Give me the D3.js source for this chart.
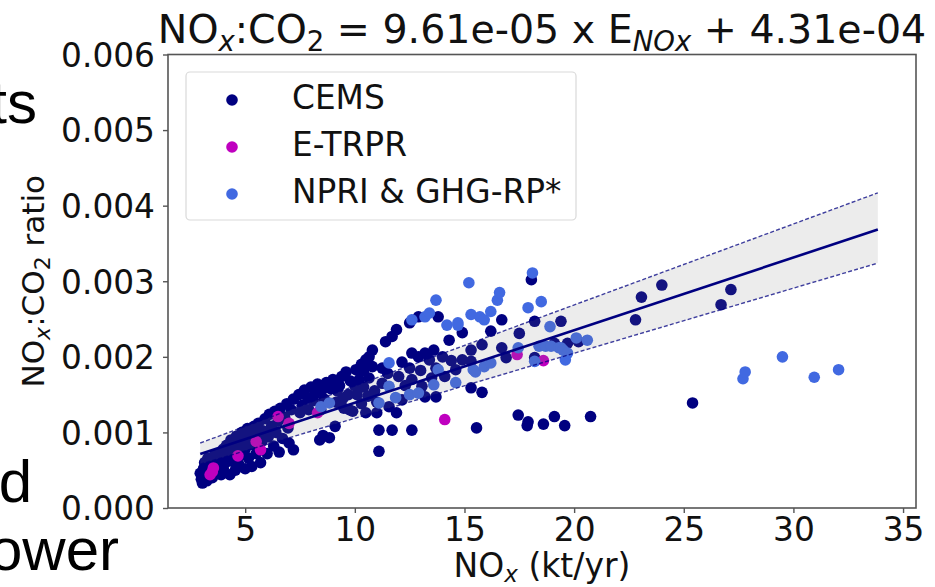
<!DOCTYPE html>
<html><head><meta charset="utf-8">
<script src="https://cdn.jsdelivr.net/npm/d3@7"></script>
<style>html,body{margin:0;padding:0;background:#fff;}svg{display:block;}</style>
</head><body>
<svg id="chart" width="935" height="587"></svg>
<script>
// ---------- data ----------
const cems = [
[2.95,4.6e-4],[3.0,3.8e-4],[3.05,3.3e-4],[3.1,5.2e-4],[3.15,6.0e-4],[3.2,4.2e-4],[3.25,3.6e-4],[3.3,6.6e-4],[3.35,5.0e-4],[3.4,5.7e-4],
[3.5,4.0e-4],[3.55,6.2e-4],[3.6,7.0e-4],[3.7,4.7e-4],[3.75,5.5e-4],[3.8,7.2e-4],[3.85,6.4e-4],[3.9,4.4e-4],[4.0,7.8e-4],[4.0,5.2e-4],
[4.1,6.0e-4],[4.15,8.3e-4],[4.2,7.0e-4],[4.3,4.4e-4],[4.35,9.0e-4],[4.4,6.2e-4],[4.5,7.6e-4],[4.55,5.0e-4],[4.6,9.5e-4],[4.65,8.4e-4],
[4.7,5.8e-4],[4.8,7.0e-4],[4.85,1.0e-3],[4.9,8.8e-4],[5.0,5.2e-4],[5.0,7.8e-4],[5.1,1.05e-3],[5.15,6.6e-4],[5.2,9.4e-4],[5.3,5.5e-4],
[5.35,8.4e-4],[5.4,1.08e-3],[5.5,7.2e-4],[5.55,9.8e-4],[5.6,1.12e-3],[5.7,6.0e-4],[5.75,8.8e-4],[5.8,1.02e-3],[5.9,1.18e-3],[6.0,7.2e-4],
[6.05,9.4e-4],[6.1,1.24e-3],[6.2,1.08e-3],[6.3,8.2e-4],[6.35,1.28e-3],[6.4,1.0e-3],[6.5,1.15e-3],[6.55,7.4e-4],[6.6,1.32e-3],[6.7,9.2e-4],
[6.8,1.2e-3],[6.9,1.38e-3],[6.95,1.06e-3],[7.0,8.6e-4],[7.1,1.3e-3],[7.2,7.7e-4],[7.2,1.44e-3],[7.45,1.5e-3],[7.5,1.26e-3],[7.6,1.36e-3],
[7.7,1.56e-3],[7.85,1.46e-3],[7.9,1.3e-3],[8.0,1.6e-3],[8.1,1.42e-3],[8.2,1.52e-3],[8.3,1.64e-3],[8.4,9.0e-4],[8.45,1.3e-3],[8.5,1.56e-3],
[8.55,9.6e-4],[8.6,1.44e-3],[8.7,1.66e-3],[8.84,9.3e-4],[8.9,1.58e-3],[9.0,1.7e-3],[9.1,1.08e-3],[9.15,1.4e-3],[9.2,1.55e-3],[9.3,1.62e-3],
[9.4,1.74e-3],[9.45,1.45e-3],[9.5,1.32e-3],[9.6,1.8e-3],[9.7,1.5e-3],[9.75,1.3e-3],[9.8,1.68e-3],[9.9,1.28e-3],[10.0,1.62e-3],[10.05,1.83e-3],
[10.1,1.5e-3],[10.2,1.7e-3],[10.3,1.38e-3],[10.3,1.9e-3],[10.4,1.6e-3],[10.4,1.82e-3],[10.5,1.96e-3],[10.5,1.26e-3],[10.6,1.48e-3],[10.65,2.0e-3],
[10.65,1.72e-3],[10.8,2.09e-3],[10.8,1.87e-3],[10.9,1.55e-3],[11.0,1.26e-3],[11.0,1.4e-3],[11.1,1.03e-3],[11.1,7.5e-4],[11.25,1.85e-3],[11.25,1.65e-3],
[11.4,2.2e-3],[11.5,1.78e-3],[11.56,1.34e-3],[11.7,2.27e-3],[11.7,1.03e-3],[11.9,2.36e-3],[11.9,1.26e-3],[12.0,1.74e-3],[12.15,1.93e-3],[12.15,1.43e-3],
[12.3,1.62e-3],[12.5,2.45e-3],[12.5,1.85e-3],[12.6,2.05e-3],[12.6,1.7e-3],[12.6,1.03e-3],[12.9,2.0e-3],[12.9,2.53e-3],[13.0,1.82e-3],[13.06,1.61e-3],
[13.2,1.47e-3],[13.2,2.05e-3],[13.4,1.96e-3],[13.5,1.72e-3],[13.6,2.09e-3],[13.7,1.85e-3],[13.7,1.47e-3],[13.8,2.53e-3],[14.0,2.0e-3],[14.1,1.74e-3],
[14.3,2.22e-3],[14.4,1.95e-3],[14.6,1.83e-3],[14.9,1.96e-3],[14.9,2.32e-3],[15.3,2.09e-3],[15.3,1.94e-3],[15.3,1.59e-3],[15.55,1.06e-3],[15.8,2.16e-3],
[15.8,1.53e-3],[16.2,2.34e-3],[16.7,2.49e-3],[16.7,2.12e-3],[16.9,1.99e-3],[17.45,1.23e-3],[17.5,2.31e-3],[17.86,1.09e-3],[17.9,1.14e-3],[18.05,3.02e-3],
[18.2,2.47e-3],[18.2,1.99e-3],[18.6,1.11e-3],[19.1,1.21e-3],[19.1,2.18e-3],[19.4,2.47e-3],[19.57,1.09e-3],[19.7,2.18e-3],[20.2,2.2e-3],[20.75,1.21e-3],
[22.8,2.49e-3],[23.07,2.79e-3],[24.0,2.95e-3],[25.4,1.39e-3],[26.7,2.69e-3],[27.15,2.89e-3]
];
const etrpr = [
[3.4,4.4e-4],[3.5,4.8e-4],[3.55,5.3e-4],[4.67,6.9e-4],[5.5,8.8e-4],[5.7,7.7e-4],[6.5,1.21e-3],[7.0,1.12e-3],
[8.3,1.26e-3],[14.1,1.17e-3],[17.4,2.03e-3],[18.6,1.95e-3]
];
const npri = [
[8.46,1.34e-3],[8.84,1.39e-3],[11.1,1.39e-3],[11.56,1.92e-3],[11.56,1.61e-3],[11.86,1.46e-3],[12.5,1.5e-3],[12.6,2.49e-3],[12.9,1.52e-3],[13.2,2.53e-3],
[13.4,2.58e-3],[13.6,1.63e-3],[13.7,2.75e-3],[13.8,1.83e-3],[14.2,2.42e-3],[14.6,1.66e-3],[14.7,2.42e-3],[14.7,2.45e-3],[15.2,2.98e-3],[15.3,2.56e-3],
[15.4,1.83e-3],[15.5,1.8e-3],[15.7,2.53e-3],[15.9,2.49e-3],[15.9,1.87e-3],[16.2,2.6e-3],[16.2,1.92e-3],[16.5,2.75e-3],[16.6,2.85e-3],[17.45,2.12e-3],
[17.9,2.65e-3],[18.1,3.11e-3],[18.2,1.94e-3],[18.4,2.14e-3],[18.5,2.73e-3],[18.7,2.14e-3],[18.9,2.4e-3],[18.95,2.14e-3],[19.3,2.12e-3],[19.4,2.12e-3],
[19.5,2.09e-3],[19.6,1.96e-3],[19.7,2.05e-3],[20.1,2.25e-3],[20.6,2.22e-3],[27.7,1.71e-3],[27.8,1.8e-3],[29.5,2.0e-3],[30.95,1.73e-3],[32.06,1.83e-3]
];
const fitSlope = 9.61e-05, fitIntercept = 4.31e-04;
const fitX = [2.95, 33.85];
const bandUpper = [8.6e-4, 4.17e-3];
const bandLower = [5.8e-4, 3.24e-3];
const xTicks = [5, 10, 15, 20, 25, 30, 35];
const yTicks = [0, 0.001, 0.002, 0.003, 0.004, 0.005, 0.006];
const yTickLabels = ["0.000","0.001","0.002","0.003","0.004","0.005","0.006"];
const seriesNames = ["CEMS", "E-TRPR", "NPRI & GHG-RP*"];
const seriesColors = ["#000080", "#bf00bf", "#4169e1"];

// ---------- drawing ----------
const svg = d3.select("#chart");
const L = 168, R = 916, T = 54.5, B = 508;
const x = d3.scaleLinear().domain([1.48, 35.59]).range([L, R]);
const y = d3.scaleLinear().domain([0, 0.006]).range([B, T]);
const FONT = "'DejaVu Sans', sans-serif";
const FS = 32.8;

// stray slide text (cut off at left)
const slide = svg.append("g").attr("font-family", "'Liberation Sans', Arial, sans-serif")
  .attr("font-size", 60).attr("fill", "#000").attr("text-anchor", "end");
slide.append("text").attr("x", 37).attr("y", 123).text("ts");
slide.append("text").attr("x", 32).attr("y", 502).text("d");
slide.append("text").attr("x", 119).attr("y", 570).text("ower");

const plot = svg.append("g");
plot.append("clipPath").attr("id","clip").append("rect").attr("x",L).attr("y",T).attr("width",R-L).attr("height",B-T);
const g = plot.append("g").attr("clip-path","url(#clip)");

const R0 = 5.8;
[cems, etrpr, npri].forEach((data, i) => {
  g.append("g").selectAll("circle").data(data).join("circle")
    .attr("cx", d => x(d[0])).attr("cy", d => y(d[1])).attr("r", R0)
    .attr("fill", seriesColors[i]);
});

// confidence band
const band = fitX.map((xv, i) => ({x: xv, lo: bandLower[i], hi: bandUpper[i]}));
g.append("path").datum(band)
  .attr("d", d3.area().x(d => x(d.x)).y0(d => y(d.lo)).y1(d => y(d.hi)))
  .attr("fill", "#808080").attr("fill-opacity", 0.15);
const line = d3.line().x(d => x(d[0])).y(d => y(d[1]));
g.append("path").datum(fitX.map(xv => [xv, fitSlope * xv + fitIntercept]))
  .attr("d", line).attr("stroke", "#000080").attr("stroke-width", 2.6).attr("fill", "none");
[bandUpper, bandLower].forEach(arr => {
  g.append("path").datum(fitX.map((xv, i) => [xv, arr[i]]))
    .attr("d", line).attr("stroke", "#000080").attr("stroke-opacity", 0.75)
    .attr("stroke-width", 1.4).attr("stroke-dasharray", "4,2.2").attr("fill", "none");
});

// frame
svg.append("rect").attr("x", L).attr("y", T).attr("width", R - L).attr("height", B - T)
  .attr("fill", "none").attr("stroke", "#555").attr("stroke-width", 1.6);

// axes
const xAxis = svg.append("g").attr("transform", `translate(0,${B})`)
  .call(d3.axisBottom(x).tickValues(xTicks).tickSize(5).tickPadding(8).tickFormat(d3.format("d")));
const yAxis = svg.append("g").attr("transform", `translate(${L},0)`)
  .call(d3.axisLeft(y).tickValues(yTicks).tickSize(5).tickPadding(8).tickFormat((d, i) => yTickLabels[i]));
[xAxis, yAxis].forEach(a => {
  a.select(".domain").remove();
  a.selectAll(".tick line").attr("stroke", "#555").attr("stroke-width", 1.4);
  a.selectAll(".tick text").attr("font-family", FONT).attr("font-size", FS).attr("fill", "#111");
});
xAxis.selectAll(".tick text").attr("dy", null).attr("y", 33);
yAxis.selectAll(".tick text").attr("x", -13).attr("dy", "0.36em");

// title
const title = svg.append("text").attr("x", 542).attr("y", 43).attr("text-anchor", "middle")
  .attr("font-family", FONT).attr("font-size", 39.5).attr("fill", "#111");
title.append("tspan").text("NO");
title.append("tspan").attr("font-size", 27.5).attr("font-style", "italic").attr("dy", 8).text("x");
title.append("tspan").attr("dy", -8).text(":CO");
title.append("tspan").attr("font-size", 27.5).attr("dy", 8).text("2");
title.append("tspan").attr("dy", -8).text(" = 9.61e-05 x E");
title.append("tspan").attr("font-size", 27.5).attr("font-style", "italic").attr("dy", 8).text("NOx");
title.append("tspan").attr("dy", -8).text(" + 4.31e-04");

// x label
const xl = svg.append("text").attr("x", 542).attr("y", 577).attr("text-anchor", "middle")
  .attr("font-family", FONT).attr("font-size", 33).attr("fill", "#111");
xl.append("tspan").text("NO");
xl.append("tspan").attr("font-size", 23).attr("font-style", "italic").attr("dy", 5).text("x");
xl.append("tspan").attr("dy", -5).text(" (kt/yr)");

// y label
const yl = svg.append("text").attr("transform", `translate(44,${(T + B) / 2}) rotate(-90)`)
  .attr("text-anchor", "middle").attr("font-family", FONT).attr("font-size", 31).attr("fill", "#111");
yl.append("tspan").text("NO");
yl.append("tspan").attr("font-size", 22).attr("font-style", "italic").attr("dy", 6).text("x");
yl.append("tspan").attr("dy", -6).text(":CO");
yl.append("tspan").attr("font-size", 22).attr("dy", 6).text("2");
yl.append("tspan").attr("dy", -6).text(" ratio");

// legend
const lg = svg.append("g");
lg.append("rect").attr("x", 186).attr("y", 72).attr("width", 390).attr("height", 148)
  .attr("rx", 4).attr("fill", "#fff").attr("fill-opacity", 0.85).attr("stroke", "#d9d9d9").attr("stroke-width", 1.2);
seriesNames.forEach((n, i) => {
  const yy = 100 + i * 47;
  lg.append("circle").attr("cx", 232).attr("cy", yy).attr("r", R0).attr("fill", seriesColors[i]);
  lg.append("text").attr("x", 292).attr("y", yy + 9).attr("font-family", FONT).attr("font-size", FS)
    .attr("fill", "#111").text(n);
});
</script>
</body></html>
